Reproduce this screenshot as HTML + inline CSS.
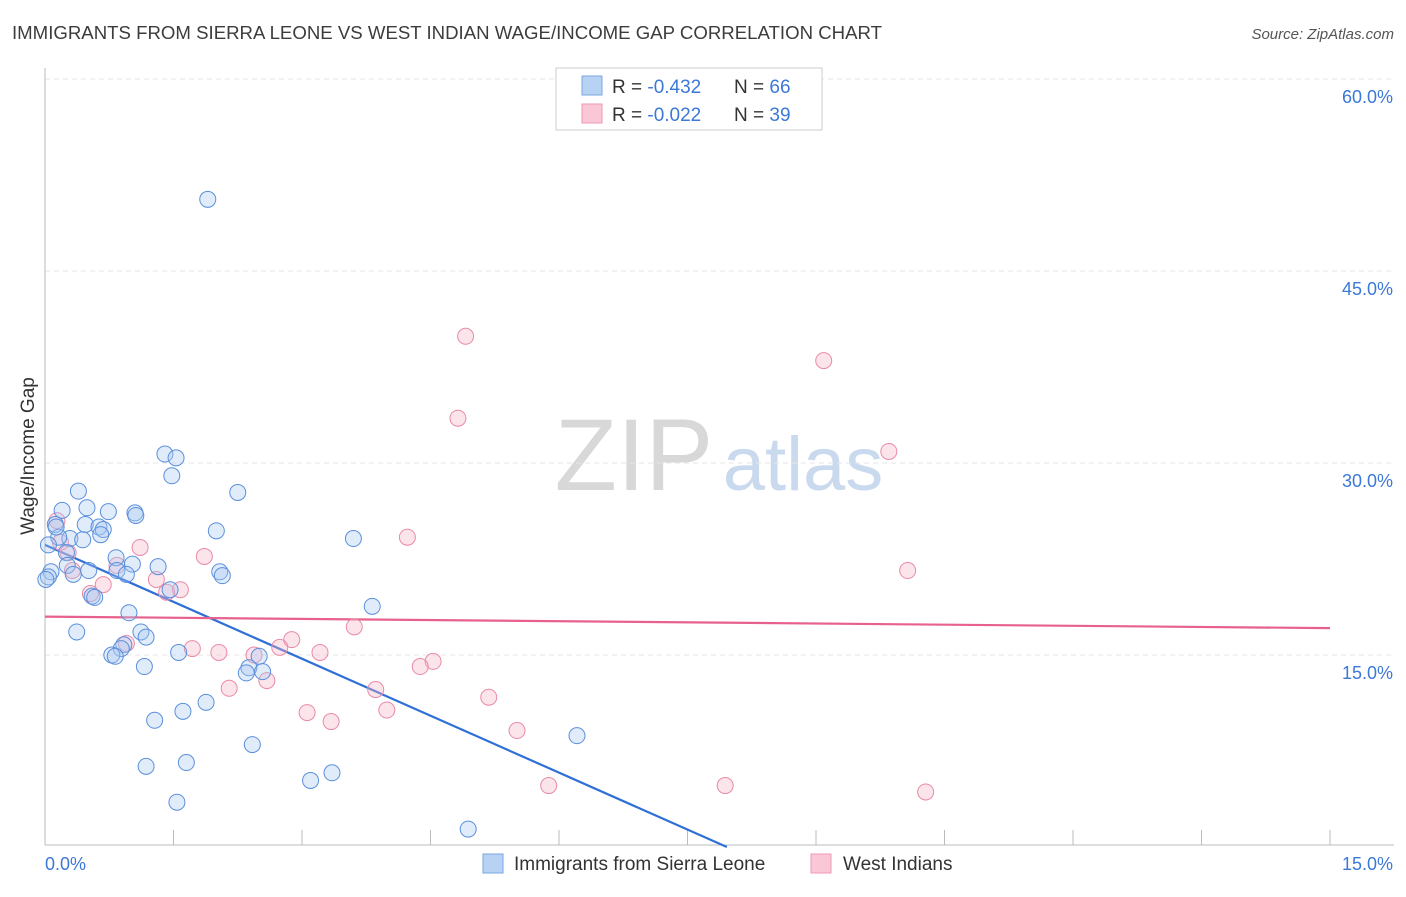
<!DOCTYPE html>
<html><head><meta charset="utf-8"><style>
body{margin:0;background:#fff;font-family:"Liberation Sans",sans-serif;}
svg text{font-family:"Liberation Sans",sans-serif;}
</style></head><body>
<svg id="chart" width="1406" height="892" viewBox="0 0 1406 892" xmlns="http://www.w3.org/2000/svg">
<text x="12" y="39" font-size="18" fill="#3c3c3c" textLength="870" lengthAdjust="spacingAndGlyphs">IMMIGRANTS FROM SIERRA LEONE VS WEST INDIAN WAGE/INCOME GAP CORRELATION CHART</text>
<text x="1394" y="39" font-size="15" fill="#555" text-anchor="end" font-style="italic">Source: ZipAtlas.com</text>
<text transform="translate(34,456) rotate(-90)" font-size="19" fill="#333" text-anchor="middle">Wage/Income Gap</text>
<g>
<text x="634" y="490" font-size="102" fill="#d8d8d8" font-family="Liberation Serif,serif" text-anchor="middle">ZIP</text>
<text x="803" y="490" font-size="76" fill="#c9d9ee" text-anchor="middle">atlas</text>
</g>
<g id="grid"></g><g id="axes"></g><g id="lines"></g><g id="pts"></g>
<g>
<rect x="556" y="68" width="266" height="62" fill="#fff" stroke="#ccc"/>
<rect x="582" y="76" width="20" height="19" fill="#b8d2f4" stroke="#7aa6e0"/>
<rect x="582" y="104" width="20" height="19" fill="#f9c7d6" stroke="#ee9ab3"/>
<text x="612" y="93" font-size="19" fill="#333">R = <tspan fill="#3c78d8">-0.432</tspan></text>
<text x="734" y="93" font-size="19" fill="#333">N = <tspan fill="#3c78d8">66</tspan></text>
<text x="612" y="121" font-size="19" fill="#333">R = <tspan fill="#3c78d8">-0.022</tspan></text>
<text x="734" y="121" font-size="19" fill="#333">N = <tspan fill="#3c78d8">39</tspan></text>
</g>
<g>
<rect x="483" y="854" width="20" height="19" fill="#b8d2f4" stroke="#7aa6e0"/>
<text x="514" y="870" font-size="19" fill="#333">Immigrants from Sierra Leone</text>
<rect x="811" y="854" width="20" height="19" fill="#f9c7d6" stroke="#ee9ab3"/>
<text x="843" y="870" font-size="19" fill="#333">West Indians</text>
</g>
</svg>
<script>
const blueX=[1.90,1.40,1.53,1.48,2.25,0.39,0.20,0.49,0.74,1.05,1.06,0.12,0.47,0.63,0.68,2.00,0.29,0.44,0.65,0.16,0.04,3.60,0.25,0.83,1.02,1.32,0.26,0.51,0.84,0.95,0.33,0.07,0.04,2.04,2.07,1.46,0.55,0.58,3.82,0.98,0.37,1.12,1.18,0.92,0.89,1.56,0.78,0.82,2.50,2.38,2.35,2.54,1.16,1.28,1.61,1.88,2.42,6.21,1.65,1.18,3.35,3.10,1.54,4.94,0.13,0.01];
const blueY=[50.6,30.7,30.4,29.0,27.7,27.8,26.3,26.5,26.2,26.1,25.9,25.2,25.2,25.0,24.8,24.7,24.1,24.0,24.4,24.2,23.6,24.1,23.0,22.6,22.1,21.9,22.0,21.6,21.6,21.3,21.3,21.5,21.1,21.5,21.2,20.1,19.6,19.5,18.8,18.3,16.8,16.8,16.4,15.8,15.5,15.2,15.0,14.9,14.9,14.0,13.6,13.7,14.1,9.9,10.6,11.3,8.0,8.7,6.6,6.3,5.8,5.2,3.5,1.4,25.0,20.9];
const pinkX=[4.91,9.09,4.82,9.85,4.23,1.11,1.86,10.07,0.14,0.18,0.27,0.84,0.68,1.30,1.58,0.53,1.42,3.61,2.88,2.74,1.72,2.03,2.44,0.95,3.21,4.53,4.38,2.59,2.15,3.86,5.18,3.06,3.34,3.99,5.51,5.88,7.94,10.28,0.32];
const pinkY=[39.9,38.0,33.5,30.9,24.2,23.4,22.7,21.6,25.5,23.8,23.0,22.0,20.5,20.9,20.1,19.8,19.9,17.2,16.2,15.6,15.5,15.2,15.0,15.9,15.2,14.5,14.1,13.0,12.4,12.3,11.7,10.5,9.8,10.7,9.1,4.8,4.8,4.3,21.6];
const blueTrend=[23.6,-2.965];
const pinkTrend=[18.0,-0.06];
const yTicks=[15,30,45,60];
const xTickLabels=["0.0%","15.0%"];
const NS="http://www.w3.org/2000/svg";
const sx=v=>45+v*1285/15, sy=v=>847-v*192/15;
function mk(t,a,p){const e=document.createElementNS(NS,t);for(const k in a)e.setAttribute(k,a[k]);p.appendChild(e);return e;}
const grid=document.getElementById('grid'),axes=document.getElementById('axes'),lines=document.getElementById('lines'),pts=document.getElementById('pts');
yTicks.forEach(t=>{
 const l=mk('line',{x1:45,x2:1394,y1:sy(t),y2:sy(t),stroke:'#e6e6e6','stroke-dasharray':'5,4'},grid);
 
 
 const tx=mk('text',{x:1393,y:sy(t)+24,'font-size':18,fill:'#3c78d8','text-anchor':'end'},grid);
 tx.textContent=t.toFixed(1)+'%';
 
 
});
const ax=mk('line',{x1:45,x2:45,y1:68,y2:845,stroke:'#bbb'},axes);


const bx=mk('line',{x1:45,x2:1394,y1:845,y2:845,stroke:'#bbb'},axes);


for(let i=0;i<=10;i++){
 const v=i*1.5;
 const t=mk('line',{x1:sx(v),x2:sx(v),y1:830,y2:845,stroke:'#bbb'},axes);
 
 
}
const xl0=mk('text',{x:45,y:870,'font-size':18,fill:'#3c78d8'},axes);xl0.textContent=xTickLabels[0];


const xl1=mk('text',{x:1393,y:870,'font-size':18,fill:'#3c78d8','text-anchor':'end'},axes);xl1.textContent=xTickLabels[1];


function dots(X,Y,fill,stroke,name){X.forEach((x,i)=>{
 const c=mk('circle',{cx:sx(x),cy:sy(Y[i]),r:8,fill:fill,'fill-opacity':0.35,stroke:stroke,'stroke-width':1},pts);
 
 
});}
dots(pinkX,pinkY,'#f5b3c7','#e98aa8','west-indians-point');
dots(blueX,blueY,'#a8c8f0','#5a8fdc','sierra-leone-point');
const bxEnd=-blueTrend[0]/blueTrend[1];
const bl=mk('line',{x1:sx(0),y1:sy(blueTrend[0]),x2:sx(bxEnd),y2:sy(0),stroke:'#2f6fd6','stroke-width':2.2},lines);


const pl=mk('line',{x1:sx(0),y1:sy(pinkTrend[0]),x2:sx(15),y2:sy(pinkTrend[0]+pinkTrend[1]*15),stroke:'#e8618c','stroke-width':2.2},lines);


</script>
</body></html>
